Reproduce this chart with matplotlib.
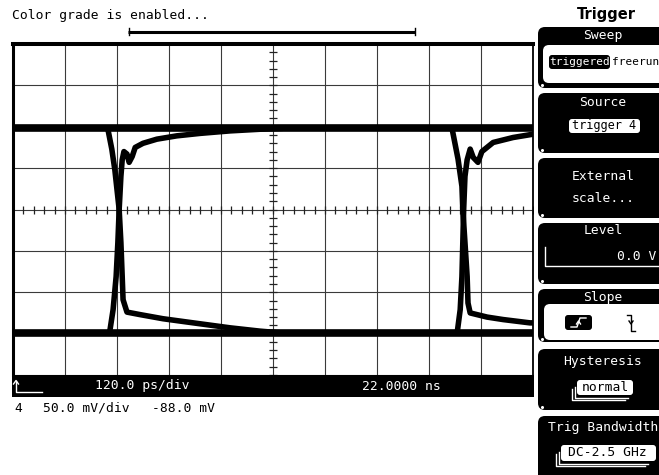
import matplotlib.pyplot as plt
import numpy as np
from matplotlib.patches import FancyBboxPatch, Rectangle

# scope settings
t_start = 22000.0        # ps, left edge (22.0000 ns)
t_div = 120.0            # ps/div
v_offset = -88.0         # mV, centre of screen
v_div = 50.0             # mV/div

# flat levels (mV)
high_level = 10.0
low_level = -237.0

# first crossing, falling edge (ps, mV)
fall1_t = [22219, 22228, 22235, 22240, 22245, 22249, 22252, 22254, 22263, 22293,
           22346, 22402, 22501, 22570, 22616]
fall1_v = [9, -15, -40, -64, -88, -128, -169, -197, -212, -215,
           -220, -224, -231, -235, -237]

# first crossing, rising edge
rise1_t = [22224, 22231, 22238, 22242, 22245, 22249, 22252, 22256, 22263, 22268,
           22275, 22282, 22300, 22332, 22378, 22432, 22501, 22570, 22616]
rise1_v = [-233, -209, -169, -128, -88, -48, -28, -18, -21, -31,
           -24, -13, -8, -3, 1, 4, 7, 9, 10]

# second crossing, falling edge
fall2_t = [23015, 23027, 23036, 23038, 23043, 23048, 23050, 23055, 23094, 23131, 23193, 23200]
fall2_v = [5, -27, -60, -88, -128, -169, -201, -213, -218, -221, -225, -225]

# second crossing, rising edge
rise2_t = [23025, 23032, 23036, 23040, 23043, 23048, 23055, 23062, 23073, 23082,
           23108, 23154, 23200]
rise2_v = [-237, -209, -169, -88, -48, -28, -15, -25, -31, -18, -7, -1, 3]

mono = 'DejaVu Sans Mono'
fs = 9.4

fig = plt.figure(figsize=(6.59, 4.75), dpi=100)

# overlay in pixel coordinates for the screen furniture
ov = fig.add_axes([0, 0, 1, 1], zorder=5)
ov.set_xlim(0, 659)
ov.set_ylim(475, 0)
ov.axis('off')

# main waveform area
ax = fig.add_axes([13 / 659, 100 / 475, 520 / 659, 331 / 475], zorder=1)
ax.set_xlim(t_start, t_start + 10 * t_div)
ax.set_ylim(v_offset - 4 * v_div, v_offset + 4 * v_div)
ax.set_xticks(t_start + t_div * np.arange(11))
ax.set_yticks(v_offset + v_div * np.arange(-4, 5))
ax.grid(True, color='#3a3a3a', lw=0.8)
ax.tick_params(length=0, labelbottom=False, labelleft=False)
for s, w in [('top', 2.9), ('left', 2.2), ('right', 1.3), ('bottom', 0.5)]:
    ax.spines[s].set_linewidth(w)
    ax.spines[s].set_color('black')

# minor ticks along centre lines
tc = t_start + 5 * t_div
ax.plot(t_start + np.arange(51) * t_div / 5, [v_offset] * 51, ls='none',
        marker='|', ms=6, mew=0.9, color='#222222')
ax.plot([tc] * 41, v_offset - 4 * v_div + np.arange(41) * v_div / 5, ls='none',
        marker='_', ms=6, mew=0.9, color='#222222')

# traces
ax.plot([t_start, t_start + 10 * t_div], [high_level, high_level], color='black', lw=5.5,
        solid_capstyle='butt')
ax.plot([t_start, t_start + 10 * t_div], [low_level, low_level], color='black', lw=5.5,
        solid_capstyle='butt')
for tt, vv in [(fall1_t, fall1_v), (rise1_t, rise1_v), (fall2_t, fall2_v), (rise2_t, rise2_v)]:
    ax.plot(tt, vv, color='black', lw=4.0, solid_joinstyle='round')

# top status text and bar
ov.text(12, 15, 'Color grade is enabled...', family=mono, fontsize=fs, va='center', ha='left')
ov.plot([128, 415], [31.5, 31.5], color='black', lw=2.2, solid_capstyle='butt')
ov.plot([128.5, 128.5], [28, 35], color='black', lw=1)
ov.plot([414.5, 414.5], [28, 35], color='black', lw=1)

# bottom bar
ov.add_patch(Rectangle((12, 375), 522, 22, fc='black', ec='none'))
ov.plot([16, 16, 42], [381, 392, 392], color='white', lw=1)
ov.plot([13.5, 16, 18.5], [384, 380.5, 384], color='white', lw=1)
ov.text(95, 386, '120.0 ps/div', family=mono, fontsize=fs, color='white', va='center')
ov.text(362, 386, '22.0000 ns', family=mono, fontsize=fs, color='white', va='center')
ov.text(14, 408, '4', family=mono, fontsize=fs, va='center')
ov.text(43, 408, '50.0 mV/div', family=mono, fontsize=fs, va='center')
ov.text(152, 408, '-88.0 mV', family=mono, fontsize=fs, va='center')

# right hand menu
ov.text(606, 14, 'Trigger', fontsize=10.5, fontweight='bold', ha='center', va='center')


def panel(y0, y1):
    ov.add_patch(FancyBboxPatch((538, y0), 135, y1 - y0,
                                boxstyle='round,pad=0,rounding_size=7', fc='black', ec='none'))
    ov.plot([541.5], [y1 - 3], marker='o', ms=1.2, color='white')


def white_box(x0, y0, w, h, r=4, fc='white'):
    ov.add_patch(FancyBboxPatch((x0, y0), w, h, boxstyle=f'round,pad=0,rounding_size={r}',
                                fc=fc, ec='none'))


def header(y, s):
    ov.text(603, y, s, family=mono, fontsize=fs, color='white', ha='center', va='center')


# Sweep
panel(27, 88)
header(35, 'Sweep')
white_box(543, 45, 130, 38, r=6)
white_box(549, 55, 61, 14, r=3, fc='black')
ov.text(579.5, 62, 'triggered', family=mono, fontsize=8, color='white', ha='center', va='center')
ov.text(612, 62, 'freerun', family=mono, fontsize=8, ha='left', va='center')

# Source
panel(93, 153)
header(102, 'Source')
white_box(569, 119, 71, 14, r=3)
ov.text(604.5, 126, 'trigger 4', family=mono, fontsize=8.6, ha='center', va='center')

# External scale
panel(158, 218)
header(177, 'External')
header(199, 'scale...')

# Level
panel(223, 284)
header(231, 'Level')
ov.plot([545, 545, 670], [247, 266, 266], color='white', lw=1)
ov.text(656, 256, '0.0 V', family=mono, fontsize=fs, color='white', ha='right', va='center')

# Slope
panel(289, 342)
header(297, 'Slope')
white_box(544, 304, 130, 36, r=6)
white_box(565, 315, 27, 15, r=3, fc='black')
ov.plot([571, 577, 580, 586], [327, 327, 318, 318], color='white', lw=1)
ov.plot([576.5, 578.5, 580.5], [324, 321, 324], color='white', lw=1)
ov.plot([627, 631, 631, 635], [315, 315, 331, 331], color='black', lw=1)
ov.plot([629, 631, 633], [321, 324, 321], color='black', lw=1)

# Hysteresis
panel(349, 410)
header(362, 'Hysteresis')
for k in (2, 1):
    ov.plot([577 - 2.5 * k, 577 - 2.5 * k, 630 - 2.5 * k],
            [384 + 2.5 * k, 395 + 2.5 * k, 395 + 2.5 * k], color='white', lw=1)
white_box(577, 380, 56, 15, r=3)
ov.text(605, 387.5, 'normal', family=mono, fontsize=fs, ha='center', va='center')

# Trig Bandwidth
panel(416, 490)
header(427, 'Trig Bandwidth')
for k in (2, 1):
    ov.plot([561 - 2.5 * k, 561 - 2.5 * k, 650 - 2.5 * k],
            [449 + 2.5 * k, 461 + 2.5 * k, 461 + 2.5 * k], color='white', lw=1)
white_box(561, 445, 95, 16, r=3)
ov.text(607, 453, 'DC-2.5 GHz', family=mono, fontsize=fs, ha='center', va='center')

fig.savefig('out.png', dpi=100)
